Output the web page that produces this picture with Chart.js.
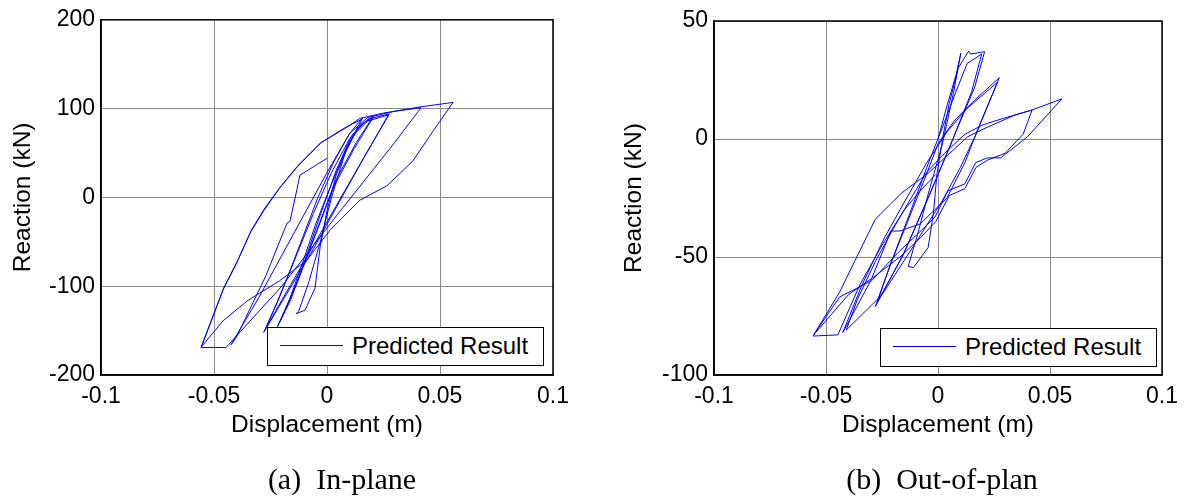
<!DOCTYPE html>
<html>
<head>
<meta charset="utf-8">
<script src="https://cdn.jsdelivr.net/npm/chart.js@4.4.1/dist/chart.umd.min.js"></script>
<style>
  body { margin: 0; background: #fff; }
  #page { position: relative; width: 1186px; height: 496px; overflow: hidden; background: #fff; }
  .plot { position: absolute; top: 0; width: 593px; height: 496px; }
  .legend-box {
    position: absolute; width: 275px; height: 37px;
    background: #fff; border: 1px solid #000;
    font: 24px "Liberation Sans", Arial, sans-serif; color: #000;
  }
  .legend-line { position: absolute; left: 12px; top: 17px; width: 63px; height: 1px; background: #0000ff; }
  .legend-text { position: absolute; left: 84px; top: 3px; line-height: 30px; white-space: nowrap; }
  .caption {
    position: absolute; top: 462px; line-height: 30px;
    font: 30px "Liberation Serif", "Times New Roman", serif; color: #000;
    white-space: pre; transform: translateX(-50%);
  }
</style>
</head>
<body>
<div id="page">
  <div class="plot" style="left:0"><canvas id="inPlane" width="593" height="496"></canvas></div>
  <div class="plot" style="left:593px"><canvas id="outPlane" width="593" height="496"></canvas></div>

  <div class="legend-box" style="left:267px;top:327px">
    <span class="legend-line"></span><span class="legend-text">Predicted Result</span>
  </div>
  <div class="legend-box" style="left:880px;top:328px">
    <span class="legend-line"></span><span class="legend-text">Predicted Result</span>
  </div>

  <div class="caption" style="left:342px">(a)  In-plane</div>
  <div class="caption" style="left:942px">(b)  Out-of-plan</div>
</div>

<script>
// ── Data (displacement in m, reaction in kN) ──────────────────────────────────
const dispInPlane = [
  0, -0.012, -0.0133, -0.0164, -0.0177, -0.027, -0.040, -0.0425,
  -0.030, -0.015, 0.000, 0.010, 0.0159,
  0.010, 0.004, 0.000, -0.003, -0.0053, -0.0097, -0.0137,
  -0.0125, -0.008, -0.003, 0.002, 0.008, 0.014, 0.0204,
  0.013, 0.004, -0.005, -0.013, -0.0208,
  -0.017, -0.011, -0.005, 0.002, 0.009, 0.015, 0.0204,
  0.012, 0.003, -0.006, -0.014, -0.022,
  -0.016, -0.009, -0.003, 0.004, 0.011, 0.018, 0.0274,
  0.018, 0.008, -0.005, -0.016, -0.027,
  -0.021, -0.013, -0.006, 0.002, 0.010, 0.018, 0.0274,
  0.017, 0.007, -0.006, -0.017, -0.028,
  -0.022, -0.016, -0.010, -0.004, 0.003, 0.010, 0.018, 0.030, 0.0416,
  0.030, 0.0044, -0.020, -0.0447, -0.0558,
  -0.046, -0.040, -0.034, -0.028, -0.0208, -0.0133, -0.003, 0.0088, 0.0146, 0.025, 0.0416, 0.0558,
  0.047, 0.038, 0.0265, 0.0146, 0.0013, -0.009, -0.021, -0.035, -0.046, -0.0555,
  -0.0455, -0.0395, -0.0335, -0.0275, -0.0203, -0.0128, -0.0025, 0.009, 0.0155
];
const reactInPlane = [
  44, 25, 9, -27, -29, -88, -157, -166,
  -112, -42, 28, 72, 90,
  62, 25, -15, -55, -102, -127, -131,
  -128, -95, -50, 0, 50, 80, 91,
  62, 20, -40, -95, -140,
  -118, -75, -30, 15, 58, 82, 90,
  55, 12, -48, -100, -146,
  -115, -65, -20, 30, 70, 88, 94,
  52, 8, -50, -98, -147,
  -112, -62, -18, 28, 66, 86, 93,
  48, 2, -58, -105, -152,
  -118, -80, -40, 0, 40, 72, 90, 97, 101,
  62, -20, -100, -169, -169,
  -104, -74, -40, -15, 11, 34, 61, 79, 89, 95, 102, 107,
  75, 41, 13, -3, -37, -71, -94, -116, -139, -168,
  -101, -71, -37, -12, 13, 36, 62, 80, 88
];

const dispOutPlane = [
  0, 0.004, 0.008, 0.0102,
  0.007, 0.002, -0.004, -0.009, -0.0133, -0.011,
  -0.0044, -0.002, -0.0005, 0.002, 0.005, 0.009, 0.0137, 0.0145, 0.0208,
  0.0164, 0.0044, -0.0044, -0.015, -0.028,
  -0.020, -0.012, -0.005, 0.002, 0.008, 0.013, 0.0195,
  0.015, 0.005, -0.004, -0.016, -0.027,
  -0.022, -0.014, -0.006, 0.000, 0.0075, 0.0164, 0.0274,
  0.0177, 0.012, 0.004, -0.008, -0.017, -0.021, -0.030, -0.0425,
  -0.034, -0.024, -0.014, -0.005, 0.004, 0.013, 0.0265,
  0.017, 0.010, 0.002, -0.010, -0.025, -0.041,
  -0.036, -0.028, -0.020, -0.012, -0.005, 0.003, 0.012, 0.020, 0.030, 0.042,
  0.038, 0.030, 0.022, 0.017, 0.012, 0.005, -0.001, -0.008, -0.017, -0.028, -0.040, -0.0555,
  -0.044, -0.028, -0.0164, -0.0044, 0.003, 0.0133, 0.022, 0.034, 0.042, 0.0553,
  0.040, 0.028, 0.022, 0.0168, 0.012, 0.0044, -0.0013, -0.0088, -0.0177, -0.0296, -0.044, -0.0558,
  -0.0447, -0.035, -0.025, -0.015, -0.008, -0.001
];
const reactOutPlane = [
  0, 14, 27, 36.4,
  20, -2, -22, -40, -54, -54.5,
  -46, -31, -15, 0, 15, 30, 37.3, 36, 37,
  22, -5, -25, -48, -71,
  -50, -30, -12, 5, 20, 32, 36,
  20, -4, -24, -50, -69,
  -55, -36, -17, -2, 8, 16.5, 26,
  4, -10, -25, -36, -39, -39, -60, -82,
  -62, -42, -25, -10, 3, 13, 24,
  2, -12, -26, -44, -66, -81,
  -68, -52, -38, -25, -14, -6, 2, 6, 9, 12.3,
  2, -6, -9, -12, -21, -24, -35, -42, -50, -58, -66, -83,
  -65, -34, -23, -14.5, -8, 1, 5, 10, 12.3, 17,
  1, -8, -8, -10, -19, -22, -33, -40, -48, -60, -67, -83.5,
  -83, -62, -45, -30, -22, -15
];

const xTicks = [-0.1, -0.05, 0, 0.05, 0.1];
const yTicksIn = [-200, -100, 0, 100, 200];
const yTicksOut = [-100, -50, 0, 50];

// ── Shared look ────────────────────────────────────────────────────────────────
const FONT = '"Liberation Sans", Arial, sans-serif';
const GRID = '#8a8a8a';

Chart.defaults.font.family = FONT;
Chart.defaults.color = '#000';

// box round the plot area (MATLAB "box on")
const framePlugin = {
  id: 'frame',
  afterDatasetsDraw(chart) {
    const { ctx, chartArea: a } = chart;
    ctx.save();
    ctx.strokeStyle = '#000';
    ctx.lineWidth = 1.5;
    ctx.strokeRect(a.left, a.top, a.right - a.left, a.bottom - a.top);
    ctx.restore();
  }
};

function fmtTick(v) {
  return String(Number(v.toFixed(2)));
}

function makeChart(id, xs, ys, yTicks, o) {
  const pts = xs.map((x, i) => ({ x, y: ys[i] }));
  return new Chart(document.getElementById(id), {
    type: 'scatter',
    data: {
      datasets: [{
        label: 'Predicted Result',
        data: pts,
        showLine: true,
        borderColor: '#0000ff',
        borderWidth: 1,
        pointRadius: 0,
        tension: 0,
        fill: false,
      }],
    },
    options: {
      responsive: false,
      animation: false,
      devicePixelRatio: 1,
      layout: { padding: { left: 0, right: o.padRight, top: o.padTop, bottom: 56 } },
      plugins: { legend: { display: false }, tooltip: { enabled: false } },
      scales: {
        x: {
          type: 'linear',
          min: xTicks[0], max: xTicks[xTicks.length - 1],
          afterBuildTicks: s => { s.ticks = xTicks.map(v => ({ value: v })); },
          afterFit: s => { s.height = 65; },
          grid: { color: GRID, lineWidth: 1, drawTicks: false },
          border: { display: true, color: '#000', width: 1.5 },
          ticks: { font: { size: 23 }, padding: 8, maxRotation: 0, callback: fmtTick },
          title: { display: true, text: 'Displacement (m)', font: { size: 24.5 }, padding: { top: 0, bottom: 0 } },
        },
        y: {
          type: 'linear',
          min: yTicks[0], max: yTicks[yTicks.length - 1],
          afterBuildTicks: s => { s.ticks = yTicks.map(v => ({ value: v })); },
          afterFit: s => { s.width = o.yWidth; },
          grid: { color: GRID, lineWidth: 1, drawTicks: false },
          border: { display: true, color: '#000', width: 1.5 },
          ticks: { font: { size: 23 }, padding: 6, callback: fmtTick },
          title: { display: true, text: 'Reaction (kN)', font: { size: 24.5 }, padding: { top: o.titlePad, bottom: 0 } },
        },
      },
    },
    plugins: [framePlugin],
  });
}

makeChart('inPlane', dispInPlane, reactInPlane, yTicksIn, { yWidth: 101, padRight: 40, padTop: 19, titlePad: 9 });
makeChart('outPlane', dispOutPlane, reactOutPlane, yTicksOut, { yWidth: 121, padRight: 20, padTop: 21, titlePad: 27 });
</script>
</body>
</html>
